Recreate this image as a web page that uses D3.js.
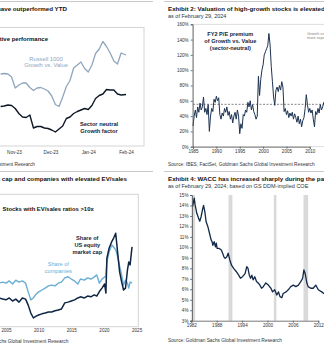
<!DOCTYPE html>
<html><head><meta charset="utf-8">
<script src="https://cdn.jsdelivr.net/npm/d3@7"></script>
<style>
body{margin:0;background:#fff}
svg{display:block}
text{font-family:"Liberation Sans",Arial,sans-serif}
</style>
</head><body>
<svg id="c" width="324" height="349"></svg>
<script>
// ---------- Panel 1: relative performance ----------
const p1Dates = ["2023-10-21","2023-10-24","2023-10-27","2023-10-30","2023-11-02","2023-11-05","2023-11-08","2023-11-11","2023-11-14","2023-11-17","2023-11-20","2023-11-23","2023-11-26","2023-11-29","2023-12-02","2023-12-05","2023-12-08","2023-12-11","2023-12-14","2023-12-17","2023-12-20","2023-12-23","2023-12-26","2023-12-29","2024-01-01","2024-01-04","2024-01-07","2024-01-10","2024-01-13","2024-01-16","2024-01-19","2024-01-22","2024-01-25","2024-01-28","2024-02-01"];
const p1Russell = [14.4,14.5,14.4,13.8,11.6,12.2,12.6,12.6,11.7,11.1,11.6,11.7,11.4,11.0,10.0,8.3,7.9,9.8,11.9,13.1,15.6,16.2,16.8,15.5,14.8,16.2,18.5,19.4,20.9,19.9,18.6,17.0,16.4,18.6,18.2];
const p1Sector = [7.9,8.0,8.2,8.1,7.5,6.5,5.8,5.7,6.2,3.6,3.9,3.9,3.6,3.5,3.2,2.8,3.4,4.0,5.5,5.8,6.5,6.9,7.2,7.5,7.3,8.1,9.5,10.1,10.4,11.3,11.2,11.2,10.4,10.2,10.3];
const p1TickDates = ["2023-11-01","2023-12-01","2024-01-01","2024-02-01"];
const p1TickLabels = ["Nov-23","Dec-23","Jan-24","Feb-24"];

// ---------- Panel 2: FY2 P/E premium (quarterly from 1985) ----------
const p2StartYear = 1985;
const p2Premium = [27,40,48,38, 52,45,57,48, 52,65,45,50, 42,55,20,40, 50,46,62,58, 66,60,64,42, 36,44,40,50, 45,52,41,46, 36,42,31,40, 45,36,48,40, 17,30,24,42, 40,48,45,58, 52,60,48,55, 46,42,36,40, 92,67,88,100, 107,120,124,128, 132,148,133,105, 85,65,54,74, 78,72,80,74, 85,78,46,50, 42,47,38,44, 40,45,36,43, 38,32,40,30, 36,26,34,38, 50,68,55,45, 50,44,48,36, 26,46,42,50, 44,55,48,52, 58,56];
const p2Average = 55.4;
const p2YearTicks = [1985,1990,1995,2000,2005,2010];
const p2PctTicks = [0,20,40,60,80,100,120,140,160];

// ---------- Panel 3: stocks with EV/sales > 10x ----------
const p3Years = [2003.9,2004.5,2005,2005.5,2006,2006.5,2007,2007.5,2008,2008.4,2008.8,2009.2,2009.6,2010,2010.5,2011,2011.5,2012,2012.5,2013,2013.5,2014,2014.5,2015,2015.5,2016,2016.4,2017,2017.5,2018,2018.5,2018.9,2019.3,2019.7,2020.1,2020.3,2020.45,2020.8,2021.2,2021.5,2021.8,2022.1,2022.4,2022.7,2023.0,2023.3,2023.6,2023.8,2024.0,2024.3];
const p3Companies = [11.5,11.8,11.5,12.1,11.3,12.3,11.8,12.1,11.5,9.2,7.1,7.6,8.6,9.2,9.7,10.2,10.8,11.0,10.8,11.5,11.8,12.9,13.2,12.6,12.1,11.3,12.6,12.3,12.9,12.6,13.1,13.7,11.5,12.6,13.1,13.4,17.1,19.8,21.6,21.0,20.3,18.5,16.0,13.7,11.0,12.3,11.5,10.2,11.8,11.5];
const p3MarketCap = [7.6,7.3,7.1,7.6,6.8,7.3,6.5,7.6,7.3,5.7,3.6,2.3,2.8,3.1,3.4,3.6,3.9,3.9,4.2,4.4,4.7,6.3,6.5,6.8,7.1,7.6,7.9,7.6,8.1,7.9,8.4,8.1,9.3,10.2,11.3,8.9,18.1,20.8,22.5,23.5,24.7,19.5,14.5,11.9,9.7,10.2,15.0,17.1,16.3,21.1];
const p3YearTicks = [2005,2010,2015,2020,2025];

// ---------- Panel 4: WACC ----------
const p4Years = [1982.3,1982.6,1982.7,1982.9,1983.3,1983.7,1984.0,1984.3,1984.7,1984.9,1985.2,1985.5,1985.9,1986.3,1986.7,1986.9,1987.1,1987.4,1987.7,1987.9,1988.1,1988.6,1989.1,1989.4,1989.7,1990.0,1990.4,1990.7,1991.1,1991.5,1992.0,1992.6,1993.2,1993.6,1994.1,1994.7,1995.1,1995.4,1995.7,1996.0,1996.3,1996.6,1997.0,1997.4,1997.8,1998.2,1998.6,1999.0,1999.6,2000.2,2000.8,2001.2,2001.7,2002.2,2002.6,2002.95,2003.4,2003.7,2004.4,2004.9,2005.5,2006.1,2006.7,2007.3,2007.9,2008.3,2008.6,2008.9,2009.3,2009.6,2010.2,2010.8,2011.4,2012.0,2012.8,2013.3,2013.8];
const p4Wacc = [13.9,14.5,14.7,14.05,13.25,12.8,12.5,12.9,13.7,14.0,13.4,12.45,12.0,11.35,10.7,10.55,10.2,10.55,10.05,10.4,9.9,9.9,9.75,9.45,9.1,8.95,9.1,9.45,8.8,8.3,8.0,7.7,7.35,7.05,7.2,7.5,8.15,8.0,7.35,7.05,7.35,6.9,7.2,6.75,6.6,6.4,6.1,6.25,6.6,6.4,6.1,5.75,5.95,5.45,5.75,5.3,5.2,5.6,5.75,5.95,6.25,6.4,6.25,6.4,6.75,7.05,7.85,7.5,6.6,6.25,6.1,6.1,6.4,5.95,5.75,5.6,5.5];
const p4RecStart = [1982.0,1990.8,2001.5,2008.5];
const p4RecEnd   = [1982.9,1991.7,2002.1,2009.6];
const p4YearTicks = [1982,1988,1994,2000,2006,2012];
const p4PctTicks = [3,4,5,6,7,8,9,10,11,12,13,14,15];

// ================= drawing =================
const svg = d3.select("#c");
const NAVY = "#10253f", RUSSELL = "#8fa6bd", LIGHTBLUE = "#6aaed6", FRAME = "#d4d4d4";

function label(x, y, s, o = {}) {
  return svg.append("text").attr("x", x).attr("y", y).attr("dy", "0.35em")
    .attr("font-size", o.size || 5)
    .attr("font-weight", o.bold ? "bold" : "normal")
    .attr("fill", o.fill || "#222")
    .attr("text-anchor", o.anchor || "start")
    .text(s);
}

// horizontal rules
[[0,153],[164,330]].forEach(([a,b]) => {
  svg.append("line").attr("x1",a).attr("x2",b).attr("y1",1.5).attr("y2",1.5).attr("stroke","#c8c8c8").attr("stroke-width",1);
  svg.append("line").attr("x1",a).attr("x2",b).attr("y1",171.5).attr("y2",171.5).attr("stroke","#c8c8c8").attr("stroke-width",1);
});

// ---------- Panel 1 ----------
{
  const x = d3.scaleUtc().domain([new Date("2023-11-01"), new Date("2024-02-01")]).range([14,126]);
  const y = d3.scaleLinear().domain([0,24]).range([146,26]);
  label(67, 9, "Exhibit 1: Growth stocks have outperformed YTD", {bold:true, size:6.2, anchor:"end", fill:"#111"});
  svg.append("rect").attr("x",-20).attr("y",27.5).attr("width",164).attr("height",118.5)
    .attr("fill","none").attr("stroke",FRAME).attr("stroke-width",1);
  label(48, 39.3, "Relative performance", {bold:true, size:6, anchor:"end", fill:"#111"});
  const line = d3.line().x((d,i)=>x(new Date(p1Dates[i]))).y(d=>y(d));
  svg.append("path").datum(p1Russell).attr("d",line).attr("fill","none").attr("stroke",RUSSELL).attr("stroke-width",1.3).attr("stroke-linejoin","round");
  svg.append("path").datum(p1Sector).attr("d",line).attr("fill","none").attr("stroke","#0d1826").attr("stroke-width",1.4).attr("stroke-linejoin","round");
  label(46, 58.5, "Russell 1000", {size:5.8, anchor:"middle", fill:RUSSELL});
  label(46, 65.3, "Growth vs. Value", {size:5.8, anchor:"middle", fill:RUSSELL});
  label(99, 123.8, "Sector neutral", {bold:true, size:5.7, anchor:"middle", fill:"#14243a"});
  label(99, 130.8, "Growth factor", {bold:true, size:5.7, anchor:"middle", fill:"#14243a"});
  const ax = svg.append("g").attr("transform","translate(0,146)")
    .call(d3.axisBottom(x).tickValues(p1TickDates.map(d=>new Date(d))).tickFormat((d,i)=>p1TickLabels[i]).tickSize(0));
  ax.select(".domain").remove();
  ax.selectAll("text").attr("y",6).attr("dy","0.35em").attr("font-size",4.6).attr("fill","#333").attr("font-family",'"Liberation Sans",Arial,sans-serif');
  label(35, 164, "Source: Goldman Sachs Global Investment Research", {size:4.8, anchor:"end", fill:"#333"});
}

// ---------- Panel 2 ----------
{
  const x = d3.scaleLinear().domain([1985,2010]).range([193,309.8]);
  const y = d3.scaleLinear().domain([0,160]).range([146.7,24.3]);
  label(168, 9, "Exhibit 2: Valuation of high-growth stocks is elevated", {bold:true, size:6.2, fill:"#111"});
  label(168, 15.7, "as of February 29, 2024", {size:5.5, fill:"#333"});
  svg.append("rect").attr("x",192.7).attr("y",24.3).attr("width",140).attr("height",122.4)
    .attr("fill","none").attr("stroke",FRAME).attr("stroke-width",0.8);
  svg.append("line").attr("x1",x(1985)).attr("x2",330).attr("y1",y(p2Average)).attr("y2",y(p2Average))
    .attr("stroke","#666").attr("stroke-width",0.8).attr("stroke-dasharray","2,1.5");
  const line = d3.line().x((d,i)=>x(p2StartYear + i/4)).y(d=>y(d));
  svg.append("path").datum(p2Premium).attr("d",line).attr("fill","none").attr("stroke","#1d3352").attr("stroke-width",1).attr("stroke-linejoin","round");
  const ay = svg.append("g").attr("transform","translate(192.7,0)")
    .call(d3.axisLeft(y).tickValues(p2PctTicks).tickFormat(d=>d+"%").tickSize(2).tickPadding(2));
  const ax = svg.append("g").attr("transform","translate(0,146.7)")
    .call(d3.axisBottom(x).tickValues(p2YearTicks).tickFormat(d3.format("d")).tickSize(2).tickPadding(1.5));
  [ay,ax].forEach(g=>{
    g.selectAll("path,line").attr("stroke","#555").attr("stroke-width",0.8);
    g.selectAll("text").attr("font-size",4.6).attr("fill","#333").attr("font-family",'"Liberation Sans",Arial,sans-serif');
  });
  label(230.3, 34.3, "FY2 P/E premium", {bold:true, size:5.6, anchor:"middle", fill:"#14243a"});
  label(230.3, 41, "of Growth vs. Value", {bold:true, size:5.6, anchor:"middle", fill:"#14243a"});
  label(230.3, 47.7, "(sector-neutral)", {bold:true, size:5.6, anchor:"middle", fill:"#14243a"});
  label(307, 33.3, "Growth vs. Value", {size:3.8, fill:"#888"});
  label(307, 37.8, "more expensive", {size:3.8, fill:"#888"});
  label(168, 164, "Source: IBES, FactSet, Goldman Sachs Global Investment Research", {size:4.8, fill:"#333"});
}

// ---------- Panel 3 ----------
{
  const x = d3.scaleLinear().domain([2005,2025]).range([6,136.6]);
  const y = d3.scaleLinear().domain([0,35]).range([326.7,194.3]);
  label(127, 179, "Exhibit 3: Share of market cap and companies with elevated EV/sales", {bold:true, size:6.2, anchor:"end", fill:"#111"});
  svg.append("rect").attr("x",-20).attr("y",194.3).attr("width",158.3).attr("height",132.4)
    .attr("fill","none").attr("stroke",FRAME).attr("stroke-width",1);
  label(2.5, 209.3, "Stocks with EV/sales ratios >10x", {bold:true, size:5.9, fill:"#111"});
  const line = vals => d3.line().x((d,i)=>x(p3Years[i])).y(d=>y(d))(vals);
  svg.append("path").attr("d",line(p3Companies)).attr("fill","none").attr("stroke",LIGHTBLUE).attr("stroke-width",1.4).attr("stroke-linejoin","round");
  svg.append("path").attr("d",line(p3MarketCap)).attr("fill","none").attr("stroke","#0f2544").attr("stroke-width",1.5).attr("stroke-linejoin","round");
  label(87.3, 238.3, "Share of", {bold:true, size:5.6, anchor:"middle", fill:"#14243a"});
  label(87.3, 245.3, "US equity", {bold:true, size:5.6, anchor:"middle", fill:"#14243a"});
  label(87.3, 252.3, "market cap", {bold:true, size:5.6, anchor:"middle", fill:"#14243a"});
  label(58.3, 264.3, "Share of", {size:5.6, anchor:"middle", fill:LIGHTBLUE});
  label(58.3, 271, "companies", {size:5.6, anchor:"middle", fill:LIGHTBLUE});
  const ax = svg.append("g").attr("transform","translate(0,326.7)")
    .call(d3.axisBottom(x).tickValues(p3YearTicks).tickFormat(d3.format("d")).tickSize(0));
  ax.select(".domain").remove();
  ax.selectAll("text").attr("y",3.5).attr("dy","0.35em").attr("font-size",4.6).attr("fill","#333").attr("font-family",'"Liberation Sans",Arial,sans-serif');
  label(68.3, 341, "Source: FactSet, Goldman Sachs Global Investment Research", {size:4.8, anchor:"end", fill:"#333"});
}

// ---------- Panel 4 ----------
{
  const x = d3.scaleLinear().domain([1982,2012]).range([191.3,318.3]);
  const y = d3.scaleLinear().domain([3,15]).range([320.7,195]);
  label(168, 179, "Exhibit 4: WACC has increased sharply during the past two years", {bold:true, size:6.2, fill:"#111"});
  label(168, 186, "as of February 29, 2024; based on GS DDM-implied COE", {size:5.5, fill:"#333"});
  svg.append("g").selectAll("rect").data(p4RecStart).join("rect")
    .attr("x",(d)=>x(d)).attr("width",(d,i)=>x(p4RecEnd[i])-x(d))
    .attr("y",195).attr("height",320.7-195).attr("fill","#d9d9d9");
  const line = d3.line().x((d,i)=>x(p4Years[i])).y(d=>y(d));
  svg.append("path").datum(p4Wacc).attr("d",line).attr("fill","none").attr("stroke","#12294a").attr("stroke-width",1.3).attr("stroke-linejoin","round");
  const ay = svg.append("g").attr("transform","translate(192,0)")
    .call(d3.axisLeft(y).tickValues(p4PctTicks).tickFormat(d=>d+"%").tickSize(2).tickPadding(1.5));
  const ax = svg.append("g").attr("transform","translate(0,320.7)")
    .call(d3.axisBottom(x).tickValues(p4YearTicks).tickFormat(d3.format("d")).tickSize(2).tickPadding(1.5));
  [ay,ax].forEach(g=>{
    g.selectAll("path,line").attr("stroke","#555").attr("stroke-width",0.8);
    g.selectAll("text").attr("font-size",4.6).attr("fill","#333").attr("font-family",'"Liberation Sans",Arial,sans-serif');
  });
  label(168, 340.7, "Source: Goldman Sachs Global Investment Research", {size:4.8, fill:"#333"});
}
</script>
</body></html>
